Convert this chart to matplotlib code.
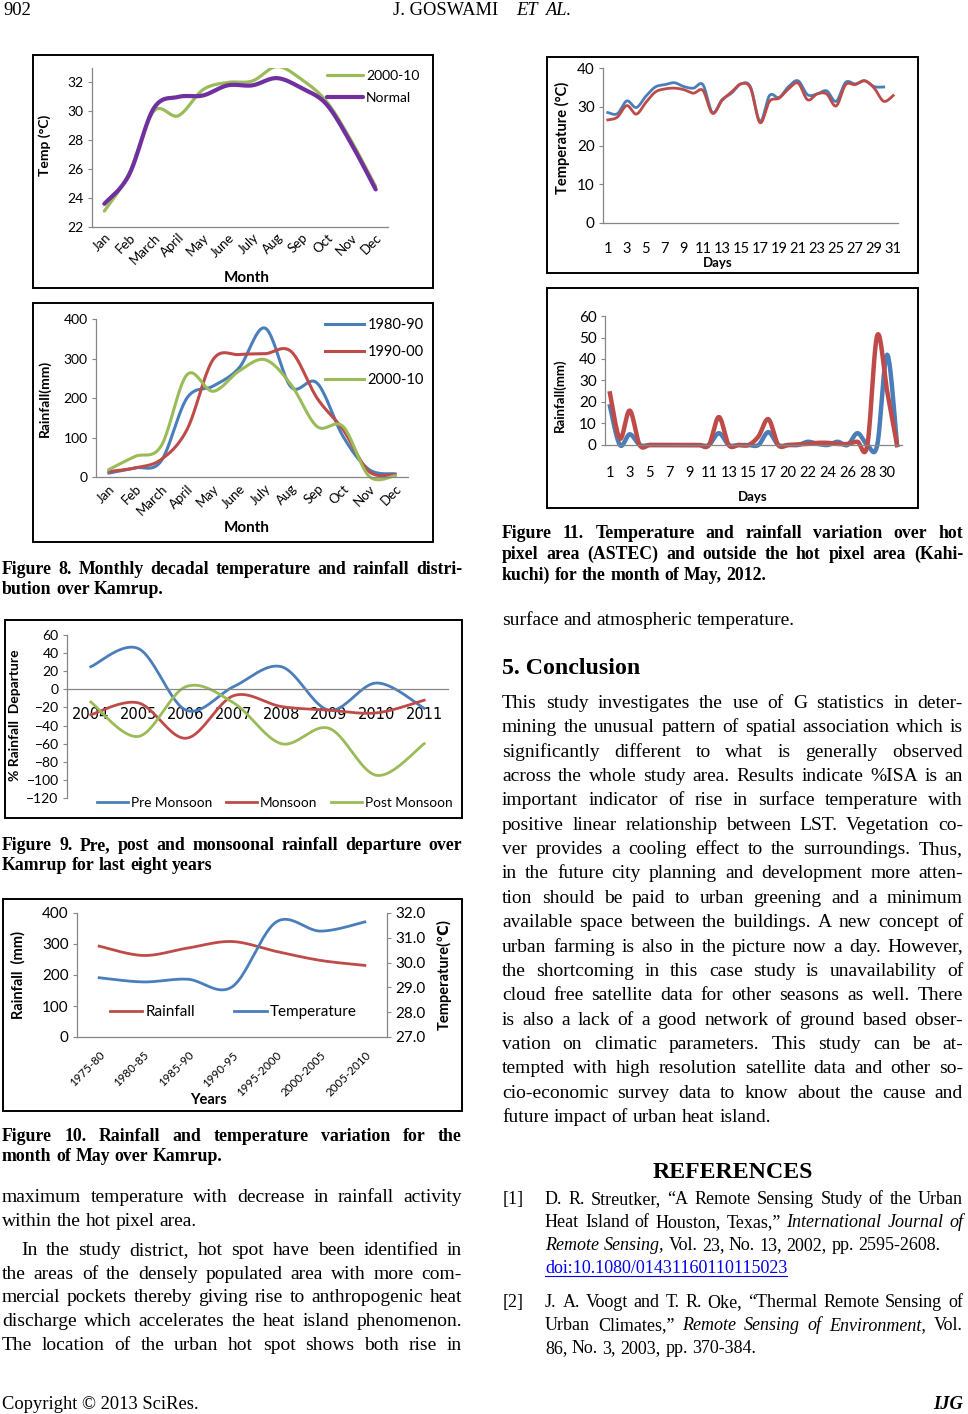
import matplotlib
matplotlib.use('Agg')
import matplotlib.pyplot as plt
import numpy as np
from matplotlib.patches import Rectangle

W, H = 968, 1414
SERIF = ['Liberation Serif', 'DejaVu Serif']
SANS = ['Lato', 'DejaVu Sans']

# ---------------- data ----------------
months = ['Jan', 'Feb', 'March', 'April', 'May', 'June', 'July', 'Aug', 'Sep', 'Oct', 'Nov', 'Dec']
temp_2000_10 = [23.1, 25.7, 30.0, 29.7, 31.5, 32.0, 32.1, 33.1, 32.2, 30.7, 28.0, 24.8]
temp_normal = [23.6, 25.6, 30.2, 31.0, 31.1, 31.8, 31.8, 32.3, 31.6, 30.5, 27.8, 24.6]
temp_ticks = [22, 24, 26, 28, 30, 32]

rain_1980_90 = [10, 23, 40, 200, 230, 276, 377, 228, 238, 103, 19, 8]
rain_1990_00 = [14, 23, 44, 120, 297, 310, 312, 318, 200, 120, 14, 6]
rain_2000_10 = [19, 52, 78, 259, 217, 268, 297, 234, 128, 128, 2, 3]
rain_ticks = [0, 100, 200, 300, 400]

dep_years = ['2004', '2005', '2006', '2007', '2008', '2009', '2010', '2011']
pre_monsoon = [25, 45, -23, 3, 25, -23, 7, -21]
monsoon = [-28, -15, -54, -7, -19, -23, -26, -12]
post_monsoon = [-14, -52, 3, -15, -60, -43, -95, -60]
dep_ticks = [-120, -100, -80, -60, -40, -20, 0, 20, 40, 60]

periods = ['1975-80', '1980-85', '1985-90', '1990-95', '1995-2000', '2000-2005', '2005-2010']
may_rainfall = [293, 263, 287, 308, 276, 247, 231]
may_temperature = [29.39, 29.22, 29.33, 29.02, 31.64, 31.27, 31.64]
may_rain_ticks = [0, 100, 200, 300, 400]
may_temp_ticks = [27.0, 28.0, 29.0, 30.0, 31.0, 32.0]

days_t = list(range(1, 32))
astec_temp = [28.5, 28.2, 31.5, 29.8, 32.7, 35.1, 35.7, 36.2, 35.2, 34.8, 35.7, 28.5, 31.8, 33.5,
              35.9, 35.1, 26.2, 32.9, 32.4, 35.2, 36.7, 33.1, 33.3, 34.1, 31.4, 36.3, 35.9, 36.7,
              35.2, 35.1]
kahikuchi_temp = [26.6, 27.3, 30.3, 28.1, 31.1, 33.8, 34.6, 34.8, 34.4, 33.5, 34.2, 28.3, 31.6, 33.8,
                  35.9, 34.8, 25.9, 31.4, 32.2, 34.6, 36.1, 31.8, 33.3, 33.3, 30.2, 35.7, 35.7, 36.7,
                  34.8, 31.4, 32.9]
day_temp_ticks = [0, 10, 20, 30, 40]

days_r = [1, 2, 3, 4, 5, 6, 7, 8, 9, 10, 11, 12, 13, 14, 15, 16, 17, 18,
          20, 21, 22, 23, 24, 25, 26, 27, 28, 29, 30, 31]
astec_rain = [18, 0, 5, 0, 0, 0, 0, 0, 0, 0, 0, 5.5, 0, 0, 0, 0, 6, 0,
              0, 0, 1.5, 0.5, 0, 1.5, 0, 5.5, 0, 0, 42, 0]
kahikuchi_rain = [24, 3, 16, 0, 0, 0, 0, 0, 0, 0, 0, 13, 0, 0, 0, 4, 12, 0,
                  0, 0.3, 0.5, 1, 1, 0.5, 0.5, 1.5, 0, 51, 25, 0]
day_rain_ticks = [0, 10, 20, 30, 40, 50, 60]

BLUE = '#4A7EBB'
RED = '#BE4B48'
GREEN = '#9BBB59'
PURPLE = '#7030A0'
AXC = '#868686'

# ---------------- helpers ----------------
def smooth(y, n=24):
    """Excel-like smoothed line (Bezier through the points)."""
    y = np.asarray(y, float)
    x = np.arange(len(y), dtype=float)
    if len(y) < 3:
        return x, y
    P = np.column_stack([x, y])
    Pp = np.vstack([P[0], P, P[-1]])
    xs, ys = [], []
    t = np.linspace(0, 1, n)
    for i in range(len(P) - 1):
        p0 = Pp[i + 1]
        p3 = Pp[i + 2]
        p1 = p0 + (Pp[i + 2] - Pp[i]) / 6.0
        p2 = p3 - (Pp[i + 3] - Pp[i + 1]) / 6.0
        b = ((1 - t) ** 3)[:, None] * p0 + (3 * (1 - t) ** 2 * t)[:, None] * p1 + \
            (3 * (1 - t) * t ** 2)[:, None] * p2 + (t ** 3)[:, None] * p3
        xs.append(b[:, 0]); ys.append(b[:, 1])
    return np.concatenate(xs), np.concatenate(ys)


fig = plt.figure(figsize=(W / 100, H / 100), dpi=100)
pg = fig.add_axes([0, 0, 1, 1])
pg.set_xlim(0, W)
pg.set_ylim(H, 0)
pg.axis('off')


def px_axes(x0, y0, x1, y1):
    a = fig.add_axes([x0 / W, 1 - y1 / H, (x1 - x0) / W, (y1 - y0) / H])
    a.patch.set_alpha(0)
    return a


def excel_style(a, fs=10, xfs=None):
    for s in ['top', 'right']:
        a.spines[s].set_visible(False)
    for s in ['left', 'bottom']:
        a.spines[s].set_color(AXC)
        a.spines[s].set_linewidth(0.9)
    a.tick_params(axis='y', length=3, color=AXC, labelsize=fs, pad=3)
    a.tick_params(axis='x', length=0, labelsize=xfs or fs)
    for lab in a.get_xticklabels() + a.get_yticklabels():
        lab.set_family(SANS)


def box(x0, y0, x1, y1):
    pg.add_patch(Rectangle((x0, y0), x1 - x0, y1 - y0, fill=False, ec='black', lw=1.4))


def ptext(x, y, s, fs=10, **kw):
    kw.setdefault('family', SANS)
    kw.setdefault('ha', 'center')
    kw.setdefault('va', 'center')
    pg.text(x, y, s, fontsize=fs, **kw)


renderer = fig.canvas.get_renderer()


def line_text(line, x0, x1, yb, fs, weight='normal', just=True, color='black'):
    words = line.split()
    texts = []
    for w in words:
        st = 'normal'
        if w.startswith('*'):
            w = w[1:]
            st = 'italic'
        t = pg.text(0, yb, w, fontsize=fs, fontweight=weight, style=st, family=SERIF,
                    va='baseline', ha='left', color=color)
        texts.append(t)
    widths = [t.get_window_extent(renderer).width for t in texts]
    total = sum(widths)
    if just and len(texts) > 1:
        gap = (x1 - x0 - total) / (len(texts) - 1)
    else:
        gap = fs * 100 / 72 * 0.25
    x = x0
    for t, w in zip(texts, widths):
        t.set_x(x)
        x += w + gap
    return x - gap


def paragraph(lines, x0, x1, yb0, dy, fs, weight='normal', indent=0, last_just=False):
    for i, ln in enumerate(lines):
        just = (i < len(lines) - 1) or last_just
        xi = x0 + (indent if i == 0 else 0)
        line_text(ln, xi, x1, yb0 + i * dy, fs, weight, just)


# ---------------- chart 1: monthly temperature ----------------
box(33, 55, 433, 288)
a1 = px_axes(92, 68, 388, 227)
for ser, col, lw, lab in [(temp_2000_10, GREEN, 2.3, '2000-10'), (temp_normal, PURPLE, 3.0, 'Normal')]:
    xs, ys = smooth(ser)
    a1.plot(xs, ys, color=col, lw=lw, label=lab, solid_capstyle='round')
a1.set_xlim(-0.5, 11.5)
a1.set_ylim(22, 33)
a1.set_yticks(temp_ticks)
a1.set_xticks(range(12))
a1.set_xticklabels(months, rotation=45, ha='right', rotation_mode='anchor')
excel_style(a1, fs=10, xfs=9.5)
a1.tick_params(axis='x', pad=3)
a1.legend(loc='upper left', bbox_to_anchor=(327 / W, 1 - 70 / H), bbox_transform=fig.transFigure,
          frameon=False, handlelength=2.6, handletextpad=0.2, labelspacing=0.7,
          borderpad=0, borderaxespad=0, prop={'family': SANS, 'size': 10})
ptext(45, 145, 'Temp (°C)', fs=10, fontweight='bold', rotation=90)
ptext(247, 278, 'Month', fs=11, fontweight='bold')

# ---------------- chart 2: monthly rainfall ----------------
box(33, 303, 433, 542)
a2 = px_axes(96, 319, 408, 477)
for ser, col, lab in [(rain_1980_90, BLUE, '1980-90'), (rain_1990_00, RED, '1990-00'), (rain_2000_10, GREEN, '2000-10')]:
    xs, ys = smooth(ser)
    a2.plot(xs, ys, color=col, lw=2.2, label=lab, clip_on=False)
a2.set_xlim(-0.5, 11.5)
a2.set_ylim(0, 400)
a2.set_yticks(rain_ticks)
a2.set_xticks(range(12))
a2.set_xticklabels(months, rotation=45, ha='right', rotation_mode='anchor')
excel_style(a2, fs=10, xfs=9.5)
a2.tick_params(axis='x', pad=4)
a2.legend(loc='upper left', bbox_to_anchor=(325 / W, 1 - 318 / H), bbox_transform=fig.transFigure,
          frameon=False, handlelength=2.7, handletextpad=0.2, labelspacing=0.92,
          borderpad=0, borderaxespad=0, prop={'family': SANS, 'size': 10.5})
ptext(45, 398, 'Rainfall(mm)', fs=10, fontweight='bold', rotation=90)
ptext(247, 528, 'Month', fs=11, fontweight='bold')

# ---------------- chart 3: rainfall departure ----------------
box(5, 620, 462, 818)
a3 = px_axes(67, 635, 448, 798)
for ser, col, lab in [(pre_monsoon, BLUE, 'Pre Monsoon'), (monsoon, RED, 'Monsoon'), (post_monsoon, GREEN, 'Post Monsoon')]:
    xs, ys = smooth(ser)
    a3.plot(xs, ys, color=col, lw=2.0, label=lab)
a3.set_xlim(-0.5, 7.5)
a3.set_ylim(-120, 60)
a3.set_yticks(dep_ticks)
a3.set_xticks(range(8))
a3.set_xticklabels(dep_years)
excel_style(a3, fs=10, xfs=10.5)
a3.spines['bottom'].set_position(('data', 0))
a3.tick_params(axis='x', pad=13)
a3.legend(loc='upper left', bbox_to_anchor=(97 / W, 1 - 797 / H), bbox_transform=fig.transFigure,
          frameon=False, ncol=3, handlelength=2.3, handletextpad=0.2, columnspacing=1.0,
          borderpad=0, borderaxespad=0, prop={'family': SANS, 'size': 9.8})
ptext(15, 715, '% Rainfall  Departure', fs=10, fontweight='bold', rotation=90)

# ---------------- chart 4: May rainfall & temperature ----------------
box(3, 899, 462, 1111)
a4 = px_axes(77, 913, 387, 1037)
xs, ys = smooth(may_rainfall)
l1, = a4.plot(xs, ys, color=RED, lw=2.0, label='Rainfall')
a4.set_xlim(-0.5, 6.5)
a4.set_ylim(0, 400)
a4.set_yticks(may_rain_ticks)
a4.set_xticks(range(7))
a4.set_xticklabels(periods, rotation=45, ha='right', rotation_mode='anchor')
excel_style(a4, fs=11, xfs=8.3)
a4.tick_params(axis='x', pad=9)
a4b = a4.twinx()
xs, ys = smooth(may_temperature)
l2, = a4b.plot(xs, ys, color=BLUE, lw=2.0, label='Temperature')
a4b.set_ylim(27, 32)
a4b.set_yticks(may_temp_ticks)
a4b.set_yticklabels(['%.1f' % v for v in may_temp_ticks])
for s in ['top', 'left', 'bottom']:
    a4b.spines[s].set_visible(False)
a4b.spines['right'].set_color(AXC)
a4b.spines['right'].set_linewidth(0.9)
a4b.tick_params(axis='y', length=3, color=AXC, labelsize=11, pad=3)
for lab in a4b.get_yticklabels():
    lab.set_family(SANS)
a4b.legend([l1, l2], ['Rainfall', 'Temperature'], loc='upper left', bbox_to_anchor=(110 / W, 1 - 1005 / H),
           bbox_transform=fig.transFigure, frameon=False, ncol=2, handlelength=2.1, handletextpad=0.2,
           columnspacing=2.6, borderpad=0, borderaxespad=0, prop={'family': SANS, 'size': 11})
ptext(18, 975, 'Rainfall  (mm)', fs=10.5, fontweight='bold', rotation=90)
ptext(444, 975, 'Temperature(℃)', fs=10.5, fontweight='bold', rotation=90)
ptext(208, 1100, 'Years', fs=10.5, fontweight='bold')

# ---------------- chart 5: daily temperature ----------------
box(547, 57, 918, 273)
a5 = px_axes(603, 68, 898, 223)
for ser, col in [(astec_temp, BLUE), (kahikuchi_temp, RED)]:
    xs, ys = smooth(ser)
    a5.plot(xs, ys, color=col, lw=2.0)
a5.set_xlim(-0.5, 30.5)
a5.set_ylim(0, 40)
a5.set_yticks(day_temp_ticks)
a5.set_xticks(range(0, 31, 2))
a5.set_xticklabels([str(d) for d in days_t[::2]])
excel_style(a5, fs=11, xfs=10.5)
a5.tick_params(axis='x', pad=14)
ptext(562, 138, 'Temperature (°C)', fs=10.5, fontweight='bold', rotation=90)
ptext(718, 263, 'Days', fs=9.5, fontweight='bold')

# ---------------- chart 6: daily rainfall ----------------
box(547, 288, 918, 508)
a6 = px_axes(605, 316, 902, 445)
for ser, col in [(astec_rain, BLUE), (kahikuchi_rain, RED)]:
    xs, ys = smooth(ser)
    a6.plot(xs, ys, color=col, lw=3.2, clip_on=False)
a6.set_xlim(-0.5, 29.5)
a6.set_ylim(0, 60)
a6.set_yticks(day_rain_ticks)
a6.set_xticks(range(0, 30, 2))
a6.set_xticklabels([str(d) for d in days_r[::2]])
excel_style(a6, fs=11, xfs=10.5)
a6.tick_params(axis='x', pad=15)
ptext(560, 395, 'Rainfall(mm)', fs=9.5, fontweight='bold', rotation=90)
ptext(753, 497, 'Days', fs=9.5, fontweight='bold')

# ---------------- page text ----------------
HDR = 13.3
pg.text(3, 15, '902', fontsize=HDR, family=SERIF, va='baseline')
pg.text(393, 15, 'J. GOSWAMI', fontsize=HDR, family=SERIF, va='baseline')
pg.text(516, 15, 'ET', fontsize=HDR, family=SERIF, style='italic', va='baseline')
pg.text(545, 15, 'AL.', fontsize=HDR, family=SERIF, style='italic', va='baseline')

CAP = 12.8
paragraph(['Figure 8. Monthly decadal temperature and rainfall distri-',
           'bution over Kamrup.'], 2, 462, 574, 20, CAP, weight='bold')
paragraph(['Figure 9. Pre, post and monsoonal rainfall departure over',
           'Kamrup for last eight years'], 2, 462, 850, 20, CAP, weight='bold')
paragraph(['Figure 10. Rainfall and temperature variation for the',
           'month of May over Kamrup.'], 2, 462, 1141, 20, CAP, weight='bold')

BODY = 14
paragraph(['maximum temperature with decrease in rainfall activity',
           'within the hot pixel area.'], 2, 462, 1202, 23.5, BODY)
paragraph(['In the study district, hot spot have been identified in',
           'the areas of the densely populated area with more com-',
           'mercial pockets thereby giving rise to anthropogenic heat',
           'discharge which accelerates the heat island phenomenon.',
           'The location of the urban hot spot shows both rise in'], 2, 462, 1255, 23.7, BODY,
          indent=19, last_just=True)

paragraph(['Figure 11. Temperature and rainfall variation over hot',
           'pixel area (ASTEC) and outside the hot pixel area (Kahi-',
           'kuchi) for the month of May, 2012.'], 502, 963, 538, 21, CAP, weight='bold')
line_text('surface and atmospheric temperature.', 502, 963, 625, BODY, just=False)
pg.text(502, 674, '5. Conclusion', fontsize=17.2, fontweight='bold', family=SERIF, va='baseline')

concl = ['This study investigates the use of G statistics in deter-',
         'mining the unusual pattern of spatial association which is',
         'significantly different to what is generally observed',
         'across the whole study area. Results indicate %ISA is an',
         'important indicator of rise in surface temperature with',
         'positive linear relationship between LST. Vegetation co-',
         'ver provides a cooling effect to the surroundings. Thus,',
         'in the future city planning and development more atten-',
         'tion should be paid to urban greening and a minimum',
         'available space between the buildings. A new concept of',
         'urban farming is also in the picture now a day. However,',
         'the shortcoming in this case study is unavailability of',
         'cloud free satellite data for other seasons as well. There',
         'is also a lack of a good network of ground based obser-',
         'vation on climatic parameters. This study can be at-',
         'tempted with high resolution satellite data and other so-',
         'cio-economic survey data to know about the cause and',
         'future impact of urban heat island.']
paragraph(concl, 502, 963, 708, 24.35, BODY)

pg.text(733, 1178, 'REFERENCES', fontsize=17.2, fontweight='bold', family=SERIF, ha='center', va='baseline')
REF = 13
pg.text(503, 1204, '[1]', fontsize=REF, family=SERIF, va='baseline')
line_text('D. R. Streutker, “A Remote Sensing Study of the Urban', 545, 963, 1204, REF)
line_text('Heat Island of Houston, Texas,” *International *Journal *of', 545, 963, 1227, REF)
line_text('*Remote *Sensing, Vol. 23, No. 13, 2002, pp. 2595-2608.', 545, 963, 1250, REF, just=False)
xe = line_text('doi:10.1080/01431160110115023', 545, 963, 1273, REF, just=False, color='#0000EE')
pg.plot([545, xe], [1276, 1276], color='#0000EE', lw=0.8)
pg.text(503, 1307, '[2]', fontsize=REF, family=SERIF, va='baseline')
line_text('J. A. Voogt and T. R. Oke, “Thermal Remote Sensing of', 545, 963, 1307, REF)
line_text('Urban Climates,” *Remote *Sensing *of *Environment, Vol.', 545, 963, 1330, REF)
line_text('86, No. 3, 2003, pp. 370-384.', 545, 963, 1353, REF, just=False)

pg.text(2, 1409, 'Copyright © 2013 SciRes.', fontsize=HDR, family=SERIF, va='baseline')
pg.text(963, 1409, 'IJG', fontsize=HDR, family=SERIF, fontweight='bold', style='italic', ha='right', va='baseline')

fig.savefig('out.png', dpi=100)
